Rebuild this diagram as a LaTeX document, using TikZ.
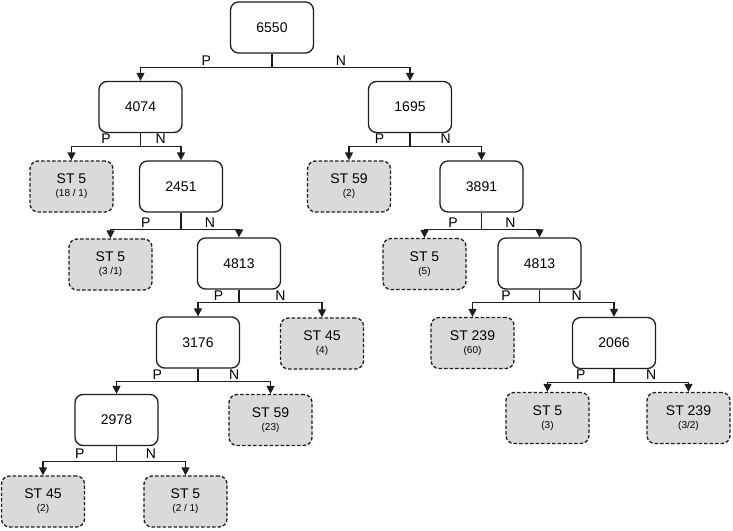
\documentclass[tikz,border=0pt]{standalone}
\usepackage{fontspec}
\setmainfont{Liberation Sans}
\usetikzlibrary{arrows.meta}
\definecolor{leafgray}{RGB}{218,218,218}
\definecolor{linegray}{RGB}{30,30,30}
\tikzset{
  inner/.style={draw=linegray, line width=1.3pt, rounded corners=8pt, fill=white,
    minimum width=83pt, minimum height=51pt, inner sep=0pt, font=\fontsize{14}{16}\selectfont},
  leaf/.style={draw=linegray, line width=1.3pt, rounded corners=8pt, fill=leafgray,
    dash pattern=on 3.5pt off 2pt, minimum width=83pt, minimum height=51pt, inner sep=0pt,
    align=center, font=\fontsize{14}{16}\selectfont},
  conn/.style={draw=linegray, line width=1.3pt},
  arr/.style={conn, -{Triangle[width=8pt,length=8pt]}},
  lab/.style={anchor=south, inner sep=0pt, yshift=2pt, font=\fontsize{14}{16}\selectfont}
}
\newcommand{\leaftxt}[2]{#1\\[-3pt]{\fontsize{10}{12}\selectfont #2}}
\begin{document}
\begin{tikzpicture}[x=1pt,y=-1pt]
\useasboundingbox (0,0) rectangle (733,530);
% nodes
\node[inner] (r) at (272,27.5) {6550};
\node[inner] (a) at (140.5,107) {4074};
\node[inner] (b) at (410,107) {1695};
\node[leaf] (l1) at (71.5,186.5) {\leaftxt{ST 5}{(18 / 1)}};
\node[inner] (c) at (181,186.5) {2451};
\node[leaf] (l2) at (349,186.5) {\leaftxt{ST 59}{(2)}};
\node[inner] (d) at (481.5,186.5) {3891};
\node[leaf] (l3) at (110.5,264.5) {\leaftxt{ST 5}{(3 /1)}};
\node[inner] (e) at (239,263.5) {4813};
\node[leaf] (l4) at (424.5,264) {\leaftxt{ST 5}{(5)}};
\node[inner] (f) at (539.5,263.5) {4813};
\node[inner] (g) at (198,342.5) {3176};
\node[leaf] (l5) at (322,343.5) {\leaftxt{ST 45}{(4)}};
\node[leaf] (l6) at (472.5,343) {\leaftxt{ST 239}{(60)}};
\node[inner] (h) at (614,343) {2066};
\node[inner] (i) at (116.5,420) {2978};
\node[leaf] (l7) at (270.5,420) {\leaftxt{ST 59}{(23)}};
\node[leaf] (l8) at (547.5,418) {\leaftxt{ST 5}{(3)}};
\node[leaf] (l9) at (688.5,418) {\leaftxt{ST 239}{(3/2)}};
\node[leaf] (l10) at (43,501.5) {\leaftxt{ST 45}{(2)}};
\node[leaf] (l11) at (185.5,501.5) {\leaftxt{ST 5}{(2 / 1)}};
% connectors
\newcommand{\split}[4]{%
  \draw[conn] (#1.south) -- ++(0,#2) coordinate (#1b);
  \draw[arr] (#1b) -| node[lab,pos=0.25]{P} (#3.north);
  \draw[arr] (#1b) -| node[lab,pos=0.25]{N} (#4.north);
}
\split{r}{14}{a}{b}
\split{a}{13}{l1}{c}
\split{b}{13}{l2}{d}
\split{c}{17}{l3}{e}
\split{d}{17}{l4}{f}
\split{e}{13}{g}{l5}
\split{f}{13}{l6}{h}
\split{g}{13}{i}{l7}
\split{h}{13}{l8}{l9}
\split{i}{15}{l10}{l11}
\end{tikzpicture}
\end{document}
